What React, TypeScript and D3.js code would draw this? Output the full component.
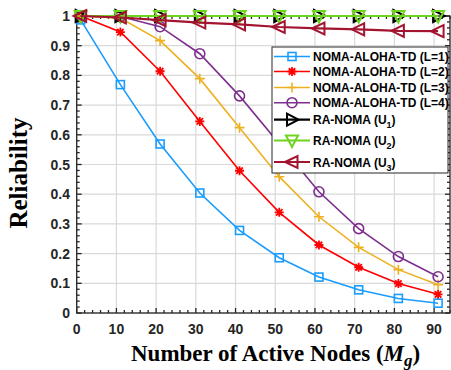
import React from "react";
import * as d3 from "d3";

// Number of active nodes at which each curve is sampled
const nodes = [1, 11, 21, 31, 41, 51, 61, 71, 81, 91];

// Reliability series
const alohaL1 = [0.987, 0.769, 0.569, 0.404, 0.278, 0.186, 0.121, 0.078, 0.049, 0.033];
const alohaL2 = [1.0, 0.946, 0.814, 0.645, 0.479, 0.339, 0.229, 0.154, 0.099, 0.063];
const alohaL3 = [1.0, 0.993, 0.917, 0.789, 0.624, 0.459, 0.324, 0.221, 0.146, 0.095];
const alohaL4 = [1.0, 0.998, 0.964, 0.873, 0.731, 0.57, 0.408, 0.284, 0.19, 0.122];
const raU1 = [1, 1, 1, 1, 1, 1, 1, 1, 1, 1];
const raU2 = [1, 1, 1, 1, 1, 1, 1, 1, 1, 1];
const raU3 = [1.0, 0.995, 0.986, 0.978, 0.972, 0.963, 0.958, 0.955, 0.95, 0.949];

const xTicks = [0, 10, 20, 30, 40, 50, 60, 70, 80, 90];
const yTicks = [0, 0.1, 0.2, 0.3, 0.4, 0.5, 0.6, 0.7, 0.8, 0.9, 1];
const yTickLabels = ["0", "0.1", "0.2", "0.3", "0.4", "0.5", "0.6", "0.7", "0.8", "0.9", "1"];

type MarkerKind = "square" | "star" | "plus" | "circle" | "tri-right" | "tri-down" | "tri-left";

interface Series {
  name: string;
  sub?: string;
  values: number[];
  color: string;
  marker: MarkerKind;
  width: number;
}

const series: Series[] = [
  { name: "NOMA-ALOHA-TD (L=1)", values: alohaL1, color: "#1a9cff", marker: "square", width: 1.6 },
  { name: "NOMA-ALOHA-TD (L=2)", values: alohaL2, color: "#ff0000", marker: "star", width: 1.6 },
  { name: "NOMA-ALOHA-TD (L=3)", values: alohaL3, color: "#edb120", marker: "plus", width: 1.6 },
  { name: "NOMA-ALOHA-TD (L=4)", values: alohaL4, color: "#7e2f8e", marker: "circle", width: 1.6 },
  { name: "RA-NOMA (U", sub: "1", values: raU1, color: "#000000", marker: "tri-right", width: 2.2 },
  { name: "RA-NOMA (U", sub: "2", values: raU2, color: "#6fd41e", marker: "tri-down", width: 2.2 },
  { name: "RA-NOMA (U", sub: "3", values: raU3, color: "#a2142f", marker: "tri-left", width: 2.2 },
];

const W = 451;
const H = 370;
const x = d3.scaleLinear().domain([0, 94]).range([76.7, 450]);
const y = d3.scaleLinear().domain([0, 1]).range([313, 16]);

function Marker({ kind, cx, cy, color }: { kind: MarkerKind; cx: number; cy: number; color: string }) {
  const common = { fill: "none", stroke: color, strokeWidth: 1.6 };
  switch (kind) {
    case "square":
      return <rect x={cx - 4} y={cy - 4} width={8} height={8} {...common} />;
    case "circle":
      return <circle cx={cx} cy={cy} r={5} {...common} />;
    case "plus":
      return (
        <path d={`M${cx - 5},${cy}H${cx + 5}M${cx},${cy - 5}V${cy + 5}`} {...common} />
      );
    case "star": {
      const r = 4.5;
      const d = r * 0.72;
      return (
        <path
          d={`M${cx - r},${cy}H${cx + r}M${cx},${cy - r}V${cy + r}M${cx - d},${cy - d}L${cx + d},${cy + d}M${cx - d},${cy + d}L${cx + d},${cy - d}`}
          {...common}
          strokeWidth={1.8}
        />
      );
    }
    case "tri-right":
      return <path d={`M${cx + 6.5},${cy}L${cx - 5},${cy - 6}L${cx - 5},${cy + 6}Z`} {...common} strokeWidth={2} />;
    case "tri-down":
      return <path d={`M${cx},${cy + 6.5}L${cx - 6},${cy - 5}L${cx + 6},${cy - 5}Z`} {...common} strokeWidth={2} />;
    case "tri-left":
      return <path d={`M${cx - 7},${cy}L${cx + 5.5},${cy - 6}L${cx + 5.5},${cy + 6}Z`} {...common} strokeWidth={2} />;
  }
}

export default function App() {
  const line = d3
    .line<number>()
    .x((_, i) => x(nodes[i]))
    .y((v) => y(v));

  const xMinor = d3.range(0, 95, 2);
  const yMinor = d3.range(0, 1.0001, 0.02);
  const [x0, x1] = x.range();
  const [yb, yt] = y.range();
  const axisColor = "#262626";
  const tickFont = "'Liberation Sans', Arial, sans-serif";
  const serif = "'Liberation Serif', 'Times New Roman', serif";

  const legendRows = [56.5, 71.5, 87.5, 102.7, 119.7, 140.5, 162];
  const lgX = 272;
  const lgY = 47;

  return (
    <div style={{ position: "fixed", left: 0, top: 0 }}>
      <svg width={W} height={H} style={{ display: "block", background: "#fff" }}>
        {/* grid */}
        <g stroke="#d9d9d9" strokeWidth={1.2}>
          {xTicks.map((t) => (
            <line key={"gx" + t} x1={x(t)} x2={x(t)} y1={yb} y2={yt} />
          ))}
          {yTicks.map((t) => (
            <line key={"gy" + t} x1={x0} x2={x1} y1={y(t)} y2={y(t)} />
          ))}
        </g>

        {/* box and ticks */}
        <g stroke={axisColor} strokeWidth={1.3} fill="none">
          <rect x={x0} y={yt} width={x1 - x0} height={yb - yt} />
          {xMinor.map((t) => {
            const len = t % 10 === 0 ? 5 : 3;
            return (
              <g key={"xm" + t}>
                <line x1={x(t)} x2={x(t)} y1={yb} y2={yb - len} />
                <line x1={x(t)} x2={x(t)} y1={yt} y2={yt + len} />
              </g>
            );
          })}
          {yMinor.map((t, i) => {
            const len = i % 5 === 0 ? 5 : 3;
            return (
              <g key={"ym" + i}>
                <line x1={x0} x2={x0 + len} y1={y(t)} y2={y(t)} />
                <line x1={x1} x2={x1 - len} y1={y(t)} y2={y(t)} />
              </g>
            );
          })}
        </g>

        {/* tick labels */}
        <g fontFamily={tickFont} fontWeight="bold" fontSize={14} fill={axisColor}>
          {xTicks.map((t) => (
            <text key={"xl" + t} x={x(t)} y={334} textAnchor="middle">
              {t}
            </text>
          ))}
          {yTicks.map((t, i) => (
            <text key={"yl" + t} x={70} y={y(t) + 5} textAnchor="end">
              {yTickLabels[i]}
            </text>
          ))}
        </g>

        {/* series */}
        {series.map((s) => (
          <g key={s.name + (s.sub ?? "")}>
            <path d={line(s.values) ?? ""} fill="none" stroke={s.color} strokeWidth={s.width} />
            {s.values.map((v, i) => (
              <Marker key={i} kind={s.marker} cx={x(nodes[i])} cy={y(v)} color={s.color} />
            ))}
          </g>
        ))}

        {/* legend */}
        <g>
          <rect x={lgX} y={lgY} width={176} height={126} fill="#fff" stroke={axisColor} strokeWidth={1} />
          {series.map((s, i) => {
            const cy = legendRows[i];
            return (
              <g key={"lg" + i}>
                <line x1={274} x2={310} y1={cy} y2={cy} stroke={s.color} strokeWidth={s.width} />
                <Marker kind={s.marker} cx={292} cy={cy} color={s.color} />
                <text
                  x={313}
                  y={cy + 4.5}
                  fontFamily={tickFont}
                  fontWeight="bold"
                  fontSize={12}
                  fill="#000"
                >
                  {s.name}
                  {s.sub ? (
                    <>
                      <tspan fontSize={9} dy={4}>
                        {s.sub}
                      </tspan>
                      <tspan dy={-4}>)</tspan>
                    </>
                  ) : null}
                </text>
              </g>
            );
          })}
        </g>

        {/* axis titles */}
        <text
          transform={`translate(27,173) rotate(-90)`}
          textAnchor="middle"
          fontFamily={serif}
          fontWeight="bold"
          fontSize={25}
          fill="#000"
        >
          Reliability
        </text>
        <text x={131} y={361} fontFamily={serif} fontWeight="bold" fontSize={23} fill="#000">
          Number of Active Nodes (
          <tspan fontStyle="italic">M</tspan>
          <tspan fontStyle="italic" fontSize={17} dy={5}>
            g
          </tspan>
          <tspan dy={-5}>)</tspan>
        </text>
      </svg>
    </div>
  );
}
